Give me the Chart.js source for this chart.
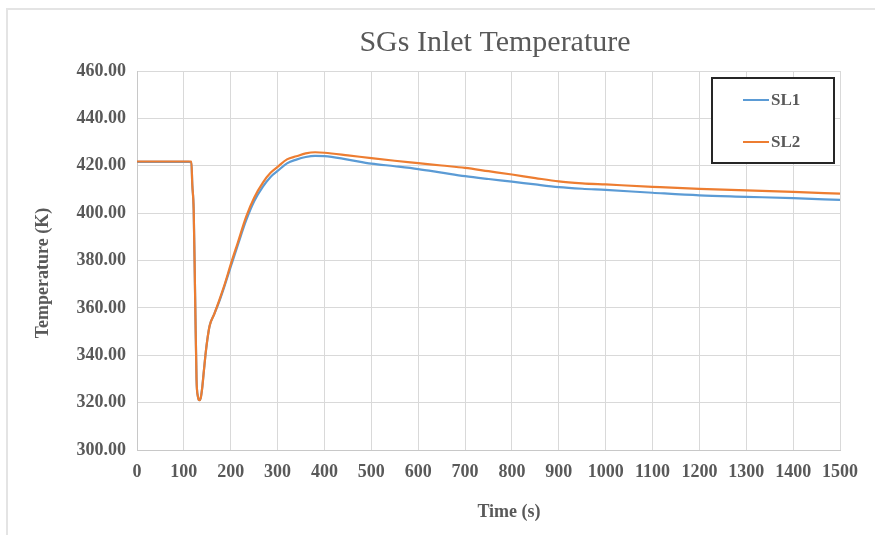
<!DOCTYPE html>
<html>
<head>
<meta charset="utf-8">
<title>SGs Inlet Temperature</title>
<script src="https://cdn.jsdelivr.net/npm/chart.js@4/dist/chart.umd.min.js"></script>
<style>

    html, body {
        margin: 0;
        padding: 0;
        background: #ffffff;
    }

    #chart-wrap {
        width: 875px;
        height: 535px;
    }

</style>
</head>
<body>

<div id="chart-wrap">
    <canvas id="temp-chart" width="875" height="535"></canvas>
</div>

<script>

/**
 * SGs inlet temperature, loops SL1 / SL2
 */


// time (s)
const times = [
    0, 110, 116, 118, 121, 124, 127, 130, 133, 136,
    139, 142, 146, 150, 155, 165, 176, 188, 201, 215,
    233, 250, 269, 285, 300, 320, 340, 360, 380, 400,
    450, 500, 550, 600, 650, 700, 750, 800, 850, 900,
    950, 1000, 1100, 1200, 1300, 1400, 1500
];


// temperature (K)
const sl1 = [
    421.6, 421.6, 421.5, 412.0, 401.0, 365.0, 330.0, 322.5, 321.0, 322.0,
    326.0, 332.0, 340.0, 346.5, 352.5, 357.5, 363.0, 370.0, 378.0, 386.5,
    397.0, 405.0, 411.3, 415.3, 417.8, 421.0, 422.6, 423.7, 424.2, 424.1,
    422.6, 420.9, 419.8, 418.6, 417.1, 415.6, 414.4, 413.3, 412.1, 411.0,
    410.3, 409.8, 408.6, 407.5, 406.9, 406.3, 405.6
];

const sl2 = [
    421.8, 421.8, 421.8, 412.0, 401.0, 365.0, 330.0, 322.5, 321.0, 322.0,
    326.0, 332.0, 340.0, 346.5, 352.5, 357.5, 363.5, 370.5, 379.0, 387.5,
    398.5, 406.5, 413.0, 417.0, 419.5, 422.7, 424.0, 425.2, 425.7, 425.5,
    424.4, 423.2, 422.1, 421.1, 420.1, 419.1, 417.7, 416.3, 414.8, 413.4,
    412.6, 412.1, 411.1, 410.2, 409.6, 409.0, 408.2
];


const seriesLabels = ["SL1", "SL2"];

const seriesColors = ["#5b9bd5", "#ed7d31"];


const SERIF = "'Liberation Serif', 'Times New Roman', serif";

const TEXT_COLOR = "#595959";



function toPoints(values) {

    return times.map((t, i) => ({ x: t, y: values[i] }));

}



/**
 * title, axis titles, boxed legend and the page frame
 */
const decorPlugin = {

    id: "decor",

    beforeDraw(chart) {

        const ctx = chart.ctx;

        ctx.save();

        ctx.strokeStyle = "#e4e4e4";
        ctx.lineWidth = 2;

        ctx.beginPath();
        ctx.moveTo(7, chart.height);
        ctx.lineTo(7, 9);
        ctx.lineTo(chart.width, 9);
        ctx.stroke();

        ctx.restore();

    },

    afterDraw(chart) {

        const ctx = chart.ctx;
        const area = chart.chartArea;

        ctx.save();

        ctx.fillStyle = TEXT_COLOR;
        ctx.textAlign = "center";
        ctx.textBaseline = "middle";

        // chart title
        ctx.font = "30px " + SERIF;
        ctx.fillText("SGs Inlet Temperature", area.left + 358, 43);

        // x axis title
        ctx.font = "bold 18px " + SERIF;
        ctx.fillText("Time (s)", area.left + 372, 512);

        // y axis title
        ctx.save();
        ctx.translate(43, area.top + 202);
        ctx.rotate(-Math.PI / 2);
        ctx.fillText("Temperature (K)", 0, 0);
        ctx.restore();

        // legend box
        const box = { left: 712, top: 78, width: 122, height: 85 };

        ctx.fillStyle = "#ffffff";
        ctx.fillRect(box.left, box.top, box.width, box.height);

        ctx.strokeStyle = "#262626";
        ctx.lineWidth = 2;
        ctx.strokeRect(box.left, box.top, box.width, box.height);

        ctx.textAlign = "left";
        ctx.font = "bold 17px " + SERIF;

        chart.data.datasets.forEach((ds, i) => {

            const y = box.top + 22 + i * 42;

            ctx.strokeStyle = ds.borderColor;
            ctx.lineWidth = 2;
            ctx.beginPath();
            ctx.moveTo(box.left + 31, y);
            ctx.lineTo(box.left + 57, y);
            ctx.stroke();

            ctx.fillStyle = TEXT_COLOR;
            ctx.fillText(ds.label, box.left + 59, y + 1);

        });

        ctx.restore();

    }

};



const TempChart = {

    instance: null,

    init() {

        const canvas = document.getElementById("temp-chart");

        if (!canvas) {
            return;
        }

        if (this.instance) {
            this.instance.destroy();
        }

        this.instance = new Chart(canvas, {

            type: "line",

            data: {

                datasets: [sl1, sl2].map((values, i) => ({

                    label: seriesLabels[i],
                    data: toPoints(values),
                    borderColor: seriesColors[i],
                    backgroundColor: seriesColors[i],
                    borderWidth: 2.2,
                    pointRadius: 0,
                    cubicInterpolationMode: "monotone",
                    fill: false,
                    // SL2 sits on top of SL1
                    order: seriesLabels.length - i

                }))

            },

            options: {

                responsive: false,
                animation: false,
                devicePixelRatio: 1,

                layout: {
                    padding: { left: 0, top: 71, right: 35, bottom: 0 }
                },

                plugins: {
                    legend: { display: false },
                    title: { display: false },
                    tooltip: { enabled: false }
                },

                scales: {

                    x: {
                        type: "linear",
                        min: 0,
                        max: 1500,
                        afterFit(scale) {
                            scale.height = 85;
                        },
                        ticks: {
                            stepSize: 100,
                            maxRotation: 0,
                            autoSkip: false,
                            padding: 12,
                            color: TEXT_COLOR,
                            font: { family: SERIF, size: 18, weight: "bold" },
                            callback: (v) => String(v)
                        },
                        grid: {
                            color: "#d9d9d9",
                            lineWidth: 1,
                            drawTicks: false
                        },
                        border: {
                            color: "#c8c8c8",
                            width: 1
                        }
                    },

                    y: {
                        min: 300,
                        max: 460,
                        afterFit(scale) {
                            scale.width = 137;
                        },
                        ticks: {
                            stepSize: 20,
                            padding: 11,
                            color: TEXT_COLOR,
                            font: { family: SERIF, size: 18, weight: "bold" },
                            callback: (v) => Number(v).toFixed(2)
                        },
                        grid: {
                            color: "#d9d9d9",
                            lineWidth: 1,
                            drawTicks: false
                        },
                        border: {
                            color: "#c8c8c8",
                            width: 1
                        }
                    }

                }

            },

            plugins: [decorPlugin]

        });

    }

};


TempChart.init();

</script>
</body>
</html>
